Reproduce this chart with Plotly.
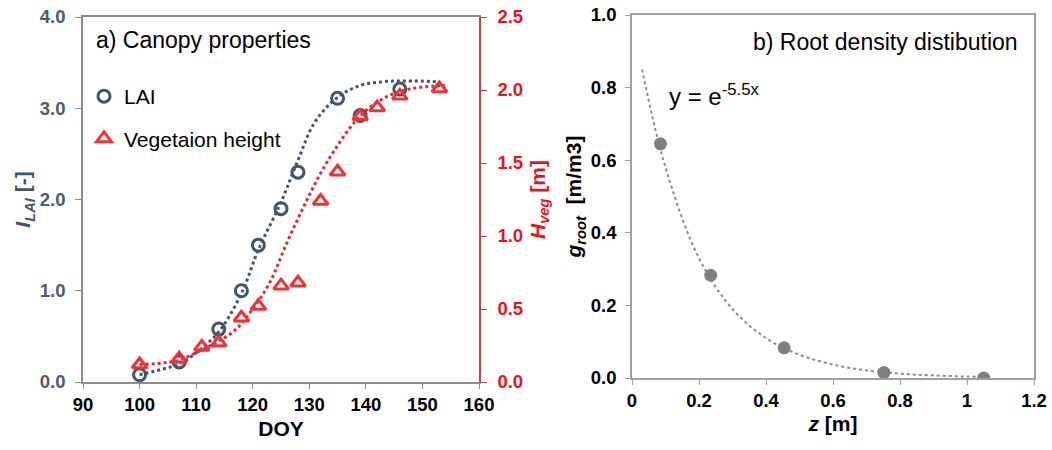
import plotly.graph_objects as go

# ---------------- data ----------------
# a) Canopy properties
lai_doy = [100, 107, 114, 118, 121, 125, 128, 135, 139, 146]
lai_val = [0.08, 0.22, 0.58, 1.0, 1.5, 1.9, 2.3, 3.11, 2.92, 3.21]

hveg_doy = [100, 107, 111, 114, 118, 121, 125, 128, 132, 135, 139, 142, 146, 153]
hveg_val = [0.12, 0.16, 0.24, 0.27, 0.44, 0.52, 0.66, 0.68, 1.24, 1.44, 1.82, 1.88, 1.96, 2.01]

# fitted (dotted) curves
lai_fit_doy = [100, 104, 107, 110, 114, 118, 121, 125, 128, 131, 135, 139, 143, 147, 153]
lai_fit_val = [0.08, 0.14, 0.2, 0.32, 0.55, 0.97, 1.45, 1.97, 2.43, 2.85, 3.12, 3.25, 3.29, 3.3, 3.29]

hveg_fit_doy = [100, 104, 107, 111, 114, 117, 120, 123, 126, 129, 132, 135, 138, 141, 144, 147, 150, 154]
hveg_fit_val = [0.12, 0.13, 0.15, 0.22, 0.28, 0.36, 0.5, 0.68, 0.95, 1.2, 1.43, 1.62, 1.78, 1.89, 1.96, 2.0, 2.02, 2.03]

# b) Root density distribution
root_z = [0.085, 0.235, 0.454, 0.752, 1.05]
root_g = [0.645, 0.283, 0.083, 0.015, 0.0]

root_fit_z = [0.03, 0.1, 0.2, 0.3, 0.4, 0.5, 0.6, 0.7, 0.8, 0.9, 1.0, 1.05]
root_fit_g = [0.85, 0.58, 0.33, 0.19, 0.11, 0.064, 0.037, 0.021, 0.012, 0.007, 0.004, 0.003]

# ---------------- styles ----------------
FONT = "Liberation Sans, Arial, sans-serif"
SLATE = "#44546A"
RED = "#EE3338"
RED_TXT = "#E8141C"
RED_AXIS = "#B8444A"
GRAY_AX = "#8C8C8C"
GRAY_PT = "#808080"

W, H = 1052, 450


def px_x(p):
    return p / W


def px_y(p):
    return 1 - p / H


fig = go.Figure()

fig.add_trace(go.Scatter(
    x=lai_fit_doy, y=lai_fit_val, mode="lines", line=dict(color=SLATE, width=3, dash="dot", shape="spline"),
    showlegend=False, hoverinfo="skip", xaxis="x", yaxis="y"))
fig.add_trace(go.Scatter(
    x=lai_doy, y=lai_val, mode="markers", name="LAI", legendgroup="a",
    marker=dict(symbol="circle-open", size=12, color=SLATE, line=dict(width=3, color=SLATE)),
    xaxis="x", yaxis="y"))
fig.add_trace(go.Scatter(
    x=hveg_fit_doy, y=hveg_fit_val, mode="lines", line=dict(color="#E02A30", width=3, dash="dot", shape="spline"),
    showlegend=False, hoverinfo="skip", xaxis="x", yaxis="y2"))
fig.add_trace(go.Scatter(
    x=hveg_doy, y=hveg_val, mode="markers", name="Vegetaion height", legendgroup="b",
    marker=dict(symbol="triangle-up-open", size=13, color=RED, line=dict(width=3, color=RED)),
    xaxis="x", yaxis="y2"))

fig.add_trace(go.Scatter(
    x=root_fit_z, y=root_fit_g, mode="lines", line=dict(color="#8C8C8C", width=2, dash="dot", shape="spline"),
    showlegend=False, hoverinfo="skip", xaxis="x3", yaxis="y3"))
fig.add_trace(go.Scatter(
    x=root_z, y=root_g, mode="markers", showlegend=False,
    marker=dict(symbol="circle", size=13, color=GRAY_PT),
    xaxis="x3", yaxis="y3"))

TICK = 18.5
tickfont_black = dict(family=FONT, size=TICK, color="#000000", weight="bold")

fig.update_layout(
    width=W, height=H,
    margin=dict(l=0, r=0, t=0, b=0),
    paper_bgcolor="white", plot_bgcolor="white",
    font=dict(family=FONT, color="#000000"),
    xaxis=dict(
        domain=[px_x(83), px_x(479)], range=[90, 160], dtick=10, tick0=90,
        showline=True, linecolor=GRAY_AX, linewidth=1.5, mirror=True,
        ticks="outside", ticklen=5, tickcolor=GRAY_AX, showgrid=False, zeroline=False,
        tickfont=tickfont_black,
        title=dict(text="<b>DOY</b>", font=dict(family=FONT, size=21, color="#000000"), standoff=7),
        anchor="y", automargin=False),
    yaxis=dict(
        domain=[px_y(382), px_y(17)], range=[0, 4], dtick=1, tickformat=".1f",
        showline=True, linecolor=GRAY_AX, linewidth=1.5,
        ticks="outside", ticklen=6, tickcolor=GRAY_AX, showgrid=False, zeroline=False,
        ticklabelstandoff=6,
        tickfont=dict(family=FONT, size=TICK, color="#4F5B6B", weight="bold"),
        title=dict(text="<b><i>I<sub>LAI</sub></i> [-]</b>", font=dict(family=FONT, size=21, color=SLATE), standoff=3),
        anchor="x", automargin=False),
    yaxis2=dict(
        overlaying="y", side="right", anchor="x", range=[0, 2.5], dtick=0.5, tickformat=".1f",
        showline=True, linecolor=RED_AXIS, linewidth=1.5,
        ticks="outside", ticklen=6, tickcolor=RED_AXIS, showgrid=False, zeroline=False,
        ticklabelstandoff=7,
        tickfont=dict(family=FONT, size=TICK, color=RED_TXT, weight="bold"),
        title=dict(text="<b><i>H<sub>veg</sub></i> [m]</b>", font=dict(family=FONT, size=21, color=RED_TXT), standoff=8),
        automargin=False),
    xaxis3=dict(
        domain=[px_x(632), px_x(1034)], range=[0, 1.2], dtick=0.2,
        showline=True, linecolor="#A0A0A0", linewidth=1.5, mirror=True,
        ticks="outside", ticklen=5, tickcolor="#A0A0A0", showgrid=False, zeroline=False,
        tickfont=tickfont_black,
        title=dict(text="<b><i>z</i> [m]</b>", font=dict(family=FONT, size=21, color="#000000"), standoff=6),
        anchor="y3", automargin=False),
    yaxis3=dict(
        domain=[px_y(378), px_y(15)], range=[0, 1.0], dtick=0.2, tickformat=".1f",
        showline=True, linecolor="#A0A0A0", linewidth=1.5, mirror=True,
        ticks="outside", ticklen=5, tickcolor="#A0A0A0", showgrid=False, zeroline=False,
        ticklabelstandoff=5,
        tickfont=tickfont_black,
        title=dict(text="<b><i>g<sub>root</sub></i>  [m/m3]</b>", font=dict(family=FONT, size=21, color="#000000"), standoff=3),
        anchor="x3", automargin=False),
    legend=dict(
        x=px_x(84), y=px_y(76), xanchor="left", yanchor="top",
        bgcolor="rgba(0,0,0,0)", font=dict(family=FONT, size=21, color="#000000"),
        traceorder="grouped", tracegroupgap=12, itemsizing="trace"),
    showlegend=True,
    annotations=[
        dict(text="a) Canopy properties", x=92.0, y=3.75, xref="x", yref="y",
             xanchor="left", yanchor="middle", showarrow=False,
             font=dict(family=FONT, size=23, color="#000000")),
        dict(text="b) Root density distibution", x=1.158, y=0.925, xref="x3", yref="y3",
             xanchor="right", yanchor="middle", showarrow=False,
             font=dict(family=FONT, size=23, color="#000000")),
        dict(text="y = e<sup>-5.5x</sup>", x=0.105, y=0.78, xref="x3", yref="y3",
             xanchor="left", yanchor="middle", showarrow=False,
             font=dict(family=FONT, size=24, color="#000000")),
    ],
)

fig.write_html("out.html")
